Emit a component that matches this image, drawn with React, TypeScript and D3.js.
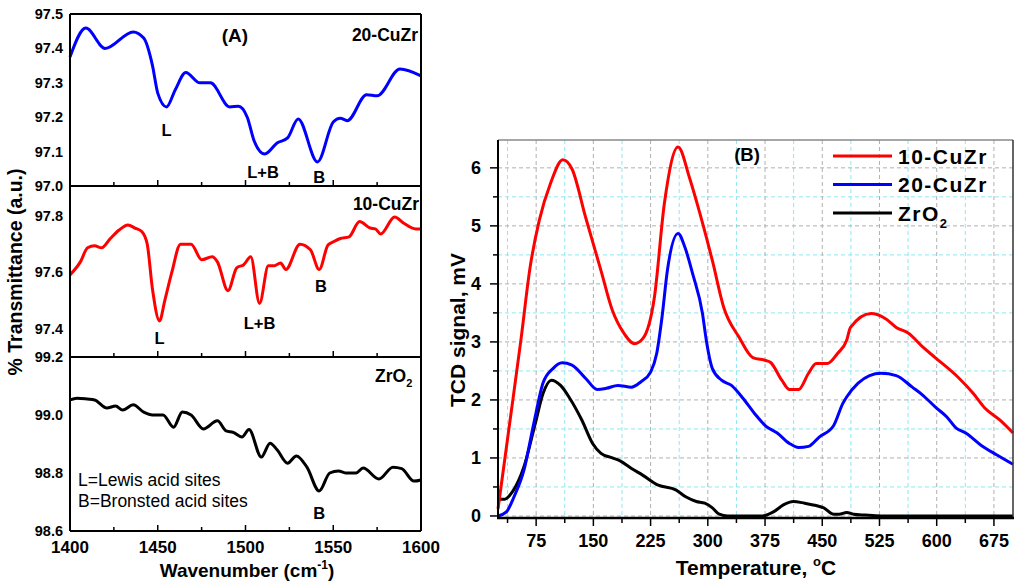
import React from "react";
import * as d3 from "d3";

// (A) FTIR of adsorbed pyridine, wavenumber ticks
const wnTicks = [1400, 1450, 1500, 1550, 1600];
const wnMinor = [1425, 1475, 1525, 1575];
const cu20Ticks = [97.0, 97.1, 97.2, 97.3, 97.4, 97.5];
const cu10Ticks = [97.4, 97.6, 97.8];
const zrTicks = [98.6, 98.8, 99.0, 99.2];

// [wavenumber, % transmittance]
const ir20: [number, number][] = [
  [1400, 97.375], [1409, 97.459], [1420, 97.4], [1436, 97.448], [1442, 97.43],
  [1447, 97.35], [1450, 97.27], [1455, 97.23], [1460, 97.28], [1466, 97.33],
  [1474, 97.3], [1480, 97.3], [1491, 97.23], [1496, 97.232], [1501, 97.2],
  [1505, 97.13], [1511, 97.093], [1518, 97.125], [1524, 97.14], [1530, 97.195],
  [1541, 97.07], [1550, 97.186], [1554, 97.197], [1558, 97.19], [1569, 97.265],
  [1575, 97.262], [1588, 97.34], [1600, 97.32],
];

const ir10: [number, number][] = [
  [1400, 97.591], [1406, 97.638], [1410, 97.687], [1414, 97.694], [1418, 97.687],
  [1423, 97.72], [1428, 97.75], [1433, 97.768], [1437, 97.757], [1441, 97.744],
  [1444, 97.7], [1447, 97.54], [1451, 97.428], [1454, 97.5], [1458, 97.6],
  [1463, 97.7], [1469, 97.7], [1475, 97.645], [1481, 97.655], [1484, 97.637],
  [1490, 97.535], [1495, 97.616], [1499, 97.627], [1503, 97.655], [1508, 97.49],
  [1513, 97.623], [1516, 97.623], [1520, 97.633], [1523, 97.61], [1531, 97.7],
  [1537, 97.68], [1542, 97.61], [1547, 97.697], [1550, 97.708], [1554, 97.72],
  [1559, 97.726], [1565, 97.78], [1571, 97.757], [1574, 97.754], [1577, 97.736],
  [1585, 97.796], [1590, 97.775], [1597, 97.754], [1600, 97.754],
];

const irZr: [number, number][] = [
  [1400, 99.052], [1404, 99.058], [1410, 99.055], [1414, 99.052], [1421, 99.024],
  [1426, 99.031], [1430, 99.017], [1436, 99.035], [1442, 99.01], [1447, 99.0],
  [1453, 99.0], [1459, 98.958], [1464, 99.01], [1469, 99.0], [1476, 98.952],
  [1484, 98.98], [1489, 98.945], [1493, 98.94], [1498, 98.924], [1502, 98.95],
  [1509, 98.855], [1514, 98.903], [1518, 98.88], [1524, 98.834], [1529, 98.859],
  [1535, 98.82], [1542, 98.738], [1548, 98.8], [1553, 98.807], [1557, 98.8],
  [1563, 98.8], [1567, 98.817], [1576, 98.779], [1584, 98.82], [1589, 98.815],
  [1596, 98.772], [1600, 98.776],
];

// (B) NH3-TPD
const tTicks = [75, 150, 225, 300, 375, 450, 525, 600, 675];
const tMinor = [37.5, 112.5, 187.5, 262.5, 337.5, 412.5, 487.5, 562.5, 637.5];
const sigTicks = [0, 1, 2, 3, 4, 5, 6];
const sigMinor = [0.5, 1.5, 2.5, 3.5, 4.5, 5.5];

// [temperature, mV]
const tpd10: [number, number][] = [
  [25, 0.12], [40, 1.57], [55, 3.03], [67, 4.28], [79, 5.09], [94, 5.74],
  [110, 6.14], [122, 5.98], [140, 5.14], [160, 4.23], [175, 3.54], [190, 3.15],
  [204, 2.97], [215, 3.06], [230, 3.77], [243, 5.38], [261, 6.36], [276, 5.83],
  [285, 5.43], [306, 4.4], [321, 3.59], [341, 3.08], [359, 2.73], [376, 2.68],
  [382, 2.65], [397, 2.34], [407, 2.18], [419, 2.18], [432, 2.46], [442, 2.63],
  [457, 2.63], [470, 2.8], [482, 3.03], [487, 3.25], [514, 3.49], [533, 3.4],
  [547, 3.25], [563, 3.15], [582, 2.91], [598, 2.73], [628, 2.39], [648, 2.11],
  [663, 1.86], [683, 1.65], [700, 1.43],
];

const tpd20: [number, number][] = [
  [25, 0.0], [36, 0.07], [46, 0.33], [59, 0.79], [72, 1.6], [84, 2.29], [97, 2.54],
  [109, 2.64], [122, 2.6], [140, 2.37], [155, 2.18], [167, 2.2], [182, 2.25],
  [200, 2.22], [212, 2.31], [225, 2.48], [233, 2.8], [240, 3.43], [247, 4.23],
  [261, 4.87], [270, 4.63], [280, 4.18], [293, 3.49], [298, 3.03], [306, 2.54],
  [318, 2.34], [331, 2.25], [346, 2.03], [361, 1.77], [376, 1.55], [391, 1.43],
  [407, 1.25], [419, 1.18], [432, 1.2], [446, 1.36], [465, 1.56], [477, 1.94],
  [482, 2.05], [497, 2.29], [512, 2.42], [527, 2.46], [547, 2.42], [568, 2.22],
  [582, 2.08], [598, 1.88], [613, 1.71], [626, 1.51], [638, 1.43], [658, 1.22],
  [679, 1.05], [700, 0.89],
];

const tpdZr: [number, number][] = [
  [25, 0.29], [34, 0.29], [44, 0.42], [59, 0.85], [74, 1.6], [84, 2.11], [95, 2.34],
  [107, 2.25], [119, 2.03], [135, 1.65], [149, 1.25], [160, 1.08], [175, 1.0],
  [185, 0.95], [200, 0.82], [215, 0.7], [235, 0.53], [258, 0.45], [271, 0.33],
  [285, 0.25], [296, 0.22], [306, 0.14], [315, 0.03], [326, 0], [371, 0],
  [386, 0.07], [399, 0.19], [412, 0.25], [427, 0.22], [442, 0.18], [452, 0.14],
  [465, 0.03], [472, 0.03], [482, 0.06], [491, 0.03], [506, 0.015], [527, 0],
  [700, 0],
];

const FONT = "Arial, 'Liberation Sans', Helvetica, sans-serif";

export default function App() {
  // panel A
  const xA = d3.scaleLinear().domain([1400, 1600]).range([70, 421]);
  const bands = [
    { data: ir20, color: "#0000ff", ticks: cu20Ticks, y: d3.scaleLinear().domain([97.0, 97.5]).range([186, 14]) },
    { data: ir10, color: "#ff0000", ticks: cu10Ticks, y: d3.scaleLinear().domain([97.3, 97.906]).range([357, 186]) },
    { data: irZr, color: "#000000", ticks: zrTicks, y: d3.scaleLinear().domain([98.6, 99.2]).range([531, 357]) },
  ];

  // panel B
  const xB = d3.scaleLinear().domain([25, 700]).range([498, 1013]);
  const yB = d3.scaleLinear().domain([-0.035, 6.48]).range([518, 140]);
  const lineB = d3
    .line<[number, number]>()
    .x((d) => xB(d[0]))
    .y((d) => yB(d[1]))
    .curve(d3.curveMonotoneX);

  const legend = [
    { name: "10-CuZr", color: "#ff0000" },
    { name: "20-CuZr", color: "#0000ff" },
    { name: "ZrO", color: "#000000", sub: "2" },
  ];

  return (
    <svg
      width={1024}
      height={587}
      style={{ position: "absolute", left: 0, top: 0, background: "#fff" }}
      fontFamily={FONT}
    >
      {/* ---------- panel A ---------- */}
      {bands.map((b, i) => {
        const [y0, y1] = b.y.range();
        const line = d3
          .line<[number, number]>()
          .x((d) => xA(d[0]))
          .y((d) => b.y(d[1]))
          .curve(d3.curveMonotoneX);
        return (
          <g key={i}>
            {wnTicks.map((t) => (
              <line key={"M" + t} x1={xA(t)} x2={xA(t)} y1={y0} y2={y0 - 6} stroke="#000" strokeWidth={1.5} />
            ))}
            {wnMinor.map((t) => (
              <line key={"m" + t} x1={xA(t)} x2={xA(t)} y1={y0} y2={y0 - 4} stroke="#000" strokeWidth={1.5} />
            ))}
            {b.ticks.map((t) => (
              <text key={t} x={63} y={b.y(t) + 5} textAnchor="end" fontSize={14.5} fontWeight="bold">
                {t.toFixed(1)}
              </text>
            ))}
            <path d={line(b.data) || ""} fill="none" stroke={b.color} strokeWidth={3} />
            <line x1={70} x2={421} y1={y0} y2={y0} stroke="#000" strokeWidth={2} />
            {i === 0 && <line x1={70} x2={421} y1={y1} y2={y1} stroke="#000" strokeWidth={2} />}
          </g>
        );
      })}
      <line x1={70} x2={70} y1={14} y2={531} stroke="#000" strokeWidth={2} />
      <line x1={421} x2={421} y1={14} y2={531} stroke="#000" strokeWidth={2} />
      {wnTicks.map((t) => (
        <text key={t} x={xA(t)} y={553} textAnchor="middle" fontSize={17} fontWeight="bold">
          {t}
        </text>
      ))}
      <text x={247} y={577} textAnchor="middle" fontSize={19} fontWeight="bold">
        Wavenumber (cm<tspan dy={-8} fontSize={12}>-1</tspan>
        <tspan dy={8}>)</tspan>
      </text>
      <text transform="translate(22,272) rotate(-90)" textAnchor="middle" fontSize={19.5} fontWeight="bold">
        % Transmittance (a.u.)
      </text>

      <text x={235} y={42} textAnchor="middle" fontSize={19} fontWeight="bold">(A)</text>
      <text x={418} y={41} textAnchor="end" fontSize={17.5} fontWeight="bold">20-CuZr</text>
      <text x={419} y={210} textAnchor="end" fontSize={17.5} fontWeight="bold">10-CuZr</text>
      <text x={375} y={382} fontSize={17.5} fontWeight="bold">
        ZrO<tspan dy={5} fontSize={11}>2</tspan>
      </text>

      <g fontSize={16.5} fontWeight="bold" textAnchor="middle">
        <text x={xA(1455)} y={136}>L</text>
        <text x={xA(1510)} y={178}>L+B</text>
        <text x={xA(1542)} y={183}>B</text>
        <text x={xA(1451)} y={344}>L</text>
        <text x={xA(1508)} y={329}>L+B</text>
        <text x={xA(1543)} y={292}>B</text>
        <text x={xA(1542)} y={519}>B</text>
      </g>
      <text x={78} y={486} fontSize={17.5}>L=Lewis acid sites</text>
      <text x={78} y={507} fontSize={17.5}>B=Bronsted acid sites</text>

      {/* ---------- panel B ---------- */}
      <g strokeDasharray="4,3" strokeWidth={1}>
        {tMinor.map((t) => (
          <line key={"xm" + t} x1={xB(t)} x2={xB(t)} y1={140} y2={518} stroke="#8ee8f2" />
        ))}
        {sigMinor.map((v) => (
          <line key={"ym" + v} x1={498} x2={1013} y1={yB(v)} y2={yB(v)} stroke="#8ee8f2" />
        ))}
        {tTicks.map((t) => (
          <line key={"xM" + t} x1={xB(t)} x2={xB(t)} y1={140} y2={518} stroke="#b0b0b0" />
        ))}
        {sigTicks.map((v) => (
          <line key={"yM" + v} x1={498} x2={1013} y1={yB(v)} y2={yB(v)} stroke="#b0b0b0" />
        ))}
      </g>

      <path d={lineB(tpdZr) || ""} fill="none" stroke="#000" strokeWidth={3} />
      <path d={lineB(tpd20) || ""} fill="none" stroke="#0000ff" strokeWidth={3} />
      <path d={lineB(tpd10) || ""} fill="none" stroke="#ff0000" strokeWidth={3} />

      <line x1={498} x2={1013} y1={140} y2={140} stroke="#888" strokeWidth={1.5} />
      <line x1={1013} x2={1013} y1={140} y2={518} stroke="#333" strokeWidth={1.5} />
      <line x1={498} x2={498} y1={140} y2={518} stroke="#000" strokeWidth={2} />
      <line x1={497} x2={1014} y1={518} y2={518} stroke="#000" strokeWidth={2.5} />

      {tTicks.map((t) => (
        <g key={"tx" + t}>
          <line x1={xB(t)} x2={xB(t)} y1={518} y2={526} stroke="#000" strokeWidth={1.5} />
          <text x={xB(t)} y={547} textAnchor="middle" fontSize={18} fontWeight="bold">{t}</text>
        </g>
      ))}
      {tMinor.map((t) => (
        <line key={"txm" + t} x1={xB(t)} x2={xB(t)} y1={518} y2={523} stroke="#000" strokeWidth={1.5} />
      ))}
      {sigTicks.map((v) => (
        <g key={"ty" + v}>
          <line x1={490} x2={498} y1={yB(v)} y2={yB(v)} stroke="#000" strokeWidth={1.5} />
          <text x={481} y={yB(v) + 6.5} textAnchor="end" fontSize={18} fontWeight="bold">{v}</text>
        </g>
      ))}
      {sigMinor.map((v) => (
        <line key={"tym" + v} x1={493} x2={498} y1={yB(v)} y2={yB(v)} stroke="#000" strokeWidth={1.5} />
      ))}

      <text x={756} y={575} textAnchor="middle" fontSize={21} fontWeight="bold">
        Temperature, <tspan dy={-9} fontSize={13}>o</tspan>
        <tspan dy={9}>C</tspan>
      </text>
      <text transform="translate(465,330) rotate(-90)" textAnchor="middle" fontSize={21} fontWeight="bold">
        TCD signal, mV
      </text>

      <text x={747} y={161} textAnchor="middle" fontSize={18.5} fontWeight="bold">(B)</text>
      {legend.map((l, i) => {
        const ly = 156 + i * 28.5;
        return (
          <g key={l.name}>
            <line x1={833} x2={892} y1={ly} y2={ly} stroke={l.color} strokeWidth={3} />
            <text x={898} y={ly + 7.5} fontSize={21} fontWeight="bold" letterSpacing={1.5}>
              {l.name}
              {l.sub && <tspan dy={7} fontSize={13}>{l.sub}</tspan>}
            </text>
          </g>
        );
      })}
    </svg>
  );
}
